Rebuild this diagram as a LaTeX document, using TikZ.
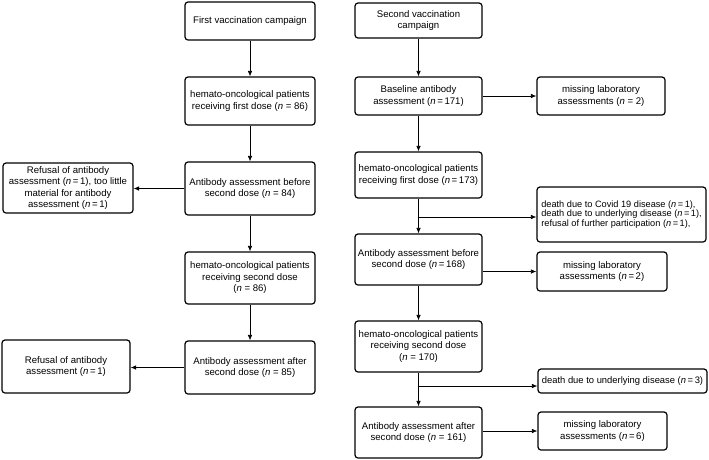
\documentclass[tikz,border=0pt]{standalone}
\usepackage{fontspec}
\setmainfont{Liberation Sans}
\usetikzlibrary{arrows.meta}
\begin{document}
\begin{tikzpicture}[x=1pt,y=-1pt,
  box/.style={draw, line width=1.2pt, rounded corners=3pt, align=center, inner sep=1pt,
    font=\fontsize{9.6pt}{11.5pt}\selectfont},
  leftbox/.style={box, align=left, inner sep=1pt,
    font=\fontsize{9.2pt}{9.3pt}\selectfont},
  arr/.style={line width=0.7pt, -{Latex[length=5.5pt,width=4.5pt]}},
  ln/.style={line width=0.7pt}]
\useasboundingbox (0,0) rectangle (709,459);
\newcommand{\nn}{\textit{n}}
\newcommand{\eqq}{\,=\,}
% left column
\node[box, minimum width=130pt, minimum height=38pt] (L1) at (250,21) {First vaccination campaign};
\node[box, minimum width=130pt, minimum height=48pt] (L2) at (250,101) {hemato-oncological patients\\receiving first dose (\nn{} = 86)};
\node[box, minimum width=130pt, minimum height=53pt] (L3) at (250,188.5) {Antibody assessment before\\second dose (\nn{} = 84)};
\node[box, minimum width=130pt, minimum height=52pt] (L4) at (250,278) {hemato-oncological patients\\receiving second dose\\(\nn{} = 86)};
\node[box, minimum width=130pt, minimum height=53pt] (L5) at (250,367.5) {Antibody assessment after\\second dose (\nn{} = 85)};
\node[box, minimum width=130pt, minimum height=50pt] (LS1) at (68,188) {Refusal of antibody\\assessment (\nn{}\eqq1), too little\\material for antibody\\assessment (\nn{}\eqq1)};
\node[box, minimum width=128pt, minimum height=53pt] (LS2) at (66,366.5) {Refusal of antibody\\assessment (\nn{}\eqq1)};
% right column
\node[box, minimum width=127pt, minimum height=35pt] (R1) at (418.5,20.5) {Second vaccination\\campaign};
\node[box, minimum width=127pt, minimum height=38pt] (R2) at (418.5,96) {Baseline antibody\\assessment (\nn{}\eqq171)};
\node[box, minimum width=127pt, minimum height=46pt] (R3) at (418.5,175) {hemato-oncological patients\\receiving first dose (\nn{}\eqq173)};
\node[box, minimum width=127pt, minimum height=51pt] (R4) at (418.5,259.5) {Antibody assessment before\\second dose (\nn{}\eqq168)};
\node[box, minimum width=127pt, minimum height=51pt] (R5) at (418.5,346.5) {hemato-oncological patients\\receiving second dose\\(\nn{} = 170)};
\node[box, minimum width=127pt, minimum height=51pt] (R6) at (418.5,432.5) {Antibody assessment after\\second dose (\nn{} = 161)};
% right side boxes
\node[box, minimum width=128pt, minimum height=38pt] (S1) at (601,96) {missing laboratory\\assessments (\nn{} = 2)};
\node[leftbox, minimum width=169pt, minimum height=55pt] (S2) at (621.5,214.5) {death due to Covid 19 disease (\nn{}\eqq1),\\death due to underlying disease (\nn{}\eqq1),\\refusal of further participation (\nn{}\eqq1),};
\node[box, minimum width=130pt, minimum height=39pt] (S3) at (602,271.5) {missing laboratory\\assessments (\nn{}\eqq2)};
\node[leftbox, minimum width=169pt, minimum height=24pt, font=\fontsize{9.4pt}{10pt}\selectfont] (S4) at (622.5,381) {death due to underlying disease (\nn{}\eqq3)};
\node[box, minimum width=129pt, minimum height=38pt] (S5) at (602.5,431) {missing laboratory\\assessments (\nn{}\eqq6)};
% junctions
\coordinate (j1) at (418.5,217);
\coordinate (j2) at (418.5,386);
% left connectors
\draw[arr] (L1) -- (L2);
\draw[arr] (L2) -- (L3);
\draw[arr] (L3) -- (L4);
\draw[arr] (L4) -- (L5);
\draw[arr] (L3.west) -- (LS1.east |- L3.west);
\draw[arr] (L5.west) -- (LS2.east |- L5.west);
% right connectors
\draw[arr] (R1) -- (R2);
\draw[arr] (R2) -- (R3);
\draw[arr] (R3) -- (R4);
\draw[arr] (R4) -- (R5);
\draw[arr] (R5) -- (R6);
\draw[arr] (R2.east) -- (S1.west);
\draw[arr] (R4.east |- S3.west) -- (S3.west);
\draw[arr] (R6.east |- S5.west) -- (S5.west);
\draw[arr] (j1) -- (j1 -| S2.west);
\draw[arr] (j2) -- (j2 -| S4.west);
\end{tikzpicture}
\end{document}
